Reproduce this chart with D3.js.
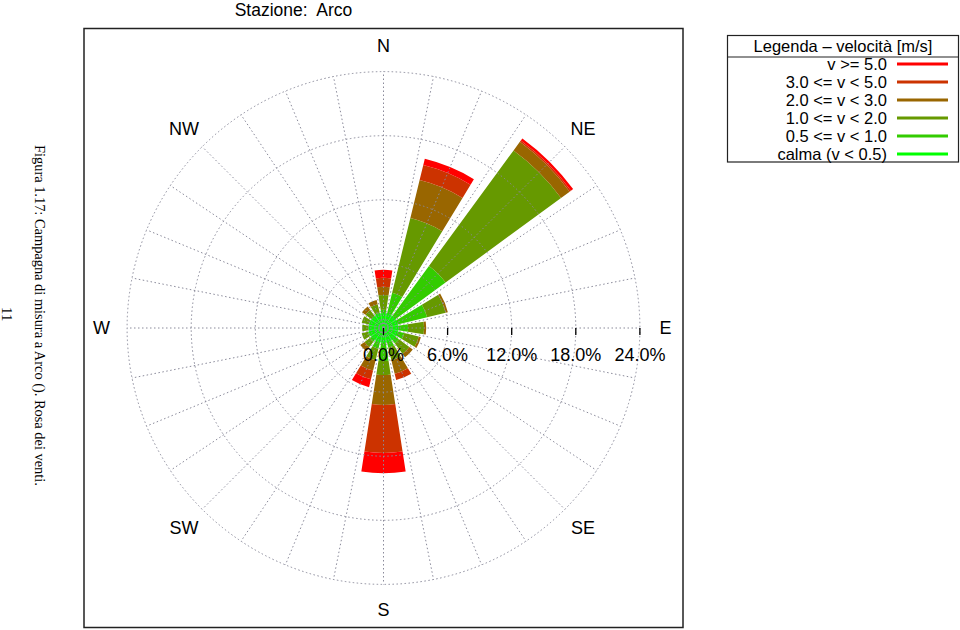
<!DOCTYPE html>
<html><head><meta charset="utf-8">
<script src="https://cdn.jsdelivr.net/npm/d3@7"></script>
<style>
html,body{margin:0;padding:0;background:#fff;}
svg{display:block;font-family:"Liberation Sans",Arial,Helvetica,sans-serif;}
</style></head>
<body><svg id="c" width="960" height="630"></svg>
<script>
// ---- data ----
const directions = ["N","NNE","NE","ENE","E","ESE","SE","SSE","S","SSW","SW","WSW","W","WNW","NW","NNW"];
const compassLabels = ["N","NE","E","SE","S","SW","W","NW"];
const speedClasses = ["calma (v < 0.5)","0.5 <= v < 1.0","1.0 <= v < 2.0","2.0 <= v < 3.0","3.0 <= v < 5.0","v >= 5.0"];
const classColors = ["#00ff00","#33cc00","#669900","#996600","#cc3300","#ff0000"];
// frequencies (%) per direction for each speed class
const v05_1 = [1.7,3.4,7.2,4.2,2.3,2.0,1.8,1.9,3.1,2.0,1.6,1.5,1.4,1.4,1.4,1.5];
const v1_2  = [1.4,7.2,13.4,1.8,1.5,1.4,1.2,1.2,1.3,1.1,0.6,0.6,0.6,0.7,0.7,0.8];
const v2_3  = [0.75,3.65,1.0,0.2,0.2,0.2,0.4,1.3,2.8,1.0,0.5,0.0,0.0,0.0,0.4,0.4];
const v3_5  = [0.85,1.45,0.15,0.0,0.0,0.0,0.0,0.6,4.5,0.85,0.0,0.0,0.0,0.0,0.0,0.0];
const v5p   = [0.75,0.6,0.25,0.0,0.0,0.0,0.0,0.0,1.9,0.75,0.0,0.0,0.0,0.0,0.0,0.0];
const calm = 1.4;
const radialTicks = [0,6,12,18,24];
const title = "Stazione:  Arco";
const legendTitle = "Legenda \u2013 velocit\u00e0 [m/s]";
const caption = "Figura 1.17: Campagna di misura a Arco (). Rosa dei venti.";
const pageNo = "11";

// ---- layout ----
const svg = d3.select("#c");
const cx = 383.5, cy = 328;
const r = d3.scaleLinear().domain([0,24]).range([0,256.4]);
const step = 2*Math.PI/directions.length;
const halfW = step*0.39;

// frame
svg.append("rect").attr("x",84).attr("y",28.5).attr("width",599).attr("height",599)
  .attr("fill","none").attr("stroke","#222").attr("stroke-width",1.5);

svg.append("text").attr("x",293.5).attr("y",15.5).attr("text-anchor","middle")
  .style("white-space","pre").attr("font-size",17.5).text(title);

const g = svg.append("g").attr("transform",`translate(${cx},${cy})`);

// petals
const series = [v05_1,v1_2,v2_3,v3_5,v5p];
const arc = d3.arc();
directions.forEach((d,i)=>{
  let acc = 0;
  series.forEach((s,k)=>{
    const v = s[i];
    if(v<=0) return;
    g.append("path").attr("d",arc({innerRadius:r(acc),outerRadius:r(acc+v),
        startAngle:i*step-halfW,endAngle:i*step+halfW}))
      .attr("fill",classColors[k+1]);
    acc += v;
  });
});
// calm disc
g.append("circle").attr("r",r(calm)).attr("fill",classColors[0]).attr("opacity",0.8);

// grid
const grid = g.append("g").attr("fill","none").attr("stroke","#8a8a9a").attr("stroke-width",1)
  .attr("stroke-dasharray","1.5,2.5");
radialTicks.slice(1).forEach(t=>grid.append("circle").attr("r",r(t)));
grid.append("circle").attr("r",r(calm));
grid.append("circle").attr("r",r(calm)/2);
d3.range(32).forEach(j=>{
  const a = j*Math.PI/16;
  grid.append("line").attr("x1",0).attr("y1",0)
    .attr("x2",r(24)*Math.sin(a)).attr("y2",-r(24)*Math.cos(a));
});

// radial axis ticks + labels
radialTicks.forEach(t=>{
  g.append("line").attr("x1",r(t)).attr("x2",r(t)).attr("y1",0).attr("y2",7)
    .attr("stroke","#000").attr("stroke-width",1.3);
  g.append("text").attr("x",r(t)).attr("y",33).attr("text-anchor","middle")
    .attr("font-size",18).text(t.toFixed(1)+"%");
});

// compass labels
compassLabels.forEach((l,i)=>{
  const a = i*Math.PI/4;
  const rr = 282;
  g.append("text").attr("x",rr*Math.sin(a)).attr("y",-rr*Math.cos(a))
    .attr("dy","0.36em").attr("text-anchor","middle").attr("font-size",18).text(l);
});

// legend
const lg = svg.append("g");
lg.append("rect").attr("x",727.5).attr("y",35.5).attr("width",231).attr("height",126.5)
  .attr("fill","#fff").attr("stroke","#222").attr("stroke-width",1.2);
lg.append("line").attr("x1",727.5).attr("x2",958.5).attr("y1",57).attr("y2",57)
  .attr("stroke","#222").attr("stroke-width",1.2);
lg.append("text").attr("x",843).attr("y",51.5).attr("text-anchor","middle").attr("font-size",16.5).text(legendTitle);
const order = speedClasses.slice().reverse();
const ocolors = classColors.slice().reverse();
order.forEach((s,k)=>{
  const y = 64 + k*18;
  lg.append("text").attr("x",887).attr("y",y).attr("dy","0.35em").attr("text-anchor","end")
    .attr("font-size",16.5).text(s);
  lg.append("line").attr("x1",897).attr("x2",948).attr("y1",y).attr("y2",y)
    .attr("stroke",ocolors[k]).attr("stroke-width",3);
});

// rotated caption
svg.append("text").attr("transform","translate(35,145) rotate(90)")
  .attr("font-family","'Liberation Serif','Times New Roman',serif").attr("font-size",14.4)
  .text(caption);
svg.append("text").attr("transform","translate(2,307) rotate(90)")
  .attr("font-family","'Liberation Serif','Times New Roman',serif").attr("font-size",15)
  .text(pageNo);
</script></body></html>
